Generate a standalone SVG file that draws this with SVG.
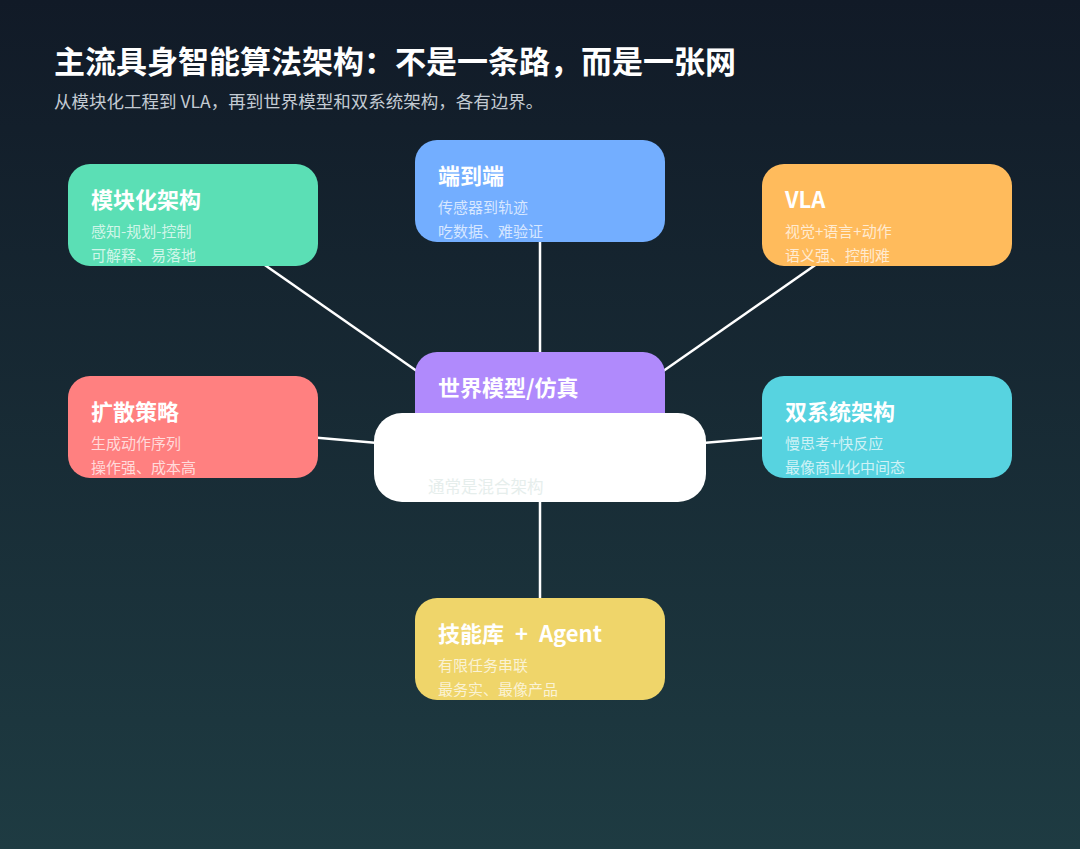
<svg xmlns="http://www.w3.org/2000/svg" width="1080" height="849" viewBox="0 0 1080 849">
<defs>
<linearGradient id="bg" x1="0" y1="0" x2="0" y2="1">
<stop offset="0" stop-color="#111a27"/>
<stop offset="1" stop-color="#1e3b42"/>
</linearGradient>
</defs>
<style>
text{font-family:"Noto Sans CJK SC","Noto Sans",sans-serif}
.title{font-size:31px;font-weight:700;fill:#ffffff}
.sub{font-size:17.5px;fill:#c3cbd3}
.nt{font-size:22px;font-weight:700;fill:#ffffff}
.nd{font-size:15px;fill:#ffffff;fill-opacity:0.72}
.edge{stroke:#ffffff;stroke-width:2.5;fill:none}
</style>
<rect width="1080" height="849" fill="url(#bg)"/>
<text class="title" x="54" y="73">主流具身智能算法架构：不是一条路，而是一张网</text>
<text class="sub" x="54" y="108">从模块化工程到 VLA，再到世界模型和双系统架构，各有边界。</text>
<g id="connectors">
<line class="edge" x1="193" y1="215" x2="540" y2="457"/>
<line class="edge" x1="540" y1="191" x2="540" y2="457"/>
<line class="edge" x1="887" y1="215" x2="540" y2="457"/>
<line class="edge" x1="193" y1="427" x2="540" y2="457"/>
<line class="edge" x1="887" y1="427" x2="540" y2="457"/>
<line class="edge" x1="540" y1="649" x2="540" y2="457"/>
</g>
<g id="node-modular">
<rect x="68" y="164" width="250" height="102" rx="22" fill="#5bdfb5"/>
<text class="nt" x="91" y="208">模块化架构</text>
<text class="nd" x="91" y="237">感知-规划-控制</text>
<text class="nd" x="91" y="261">可解释、易落地</text>
</g>
<g id="node-e2e">
<rect x="415" y="140" width="250" height="102" rx="22" fill="#73aeff"/>
<text class="nt" x="438" y="184">端到端</text>
<text class="nd" x="438" y="213">传感器到轨迹</text>
<text class="nd" x="438" y="237">吃数据、难验证</text>
</g>
<g id="node-vla">
<rect x="762" y="164" width="250" height="102" rx="22" fill="#ffbb5c"/>
<text class="nt" x="785" y="208">VLA</text>
<text class="nd" x="785" y="237">视觉+语言+动作</text>
<text class="nd" x="785" y="261">语义强、控制难</text>
</g>
<g id="node-world">
<rect x="415" y="352" width="250" height="102" rx="22" fill="#b08afc"/>
<text class="nt" x="438" y="396">世界模型/仿真</text>
</g>
<g id="node-diffusion">
<rect x="68" y="376" width="250" height="102" rx="22" fill="#ff8080"/>
<text class="nt" x="91" y="420">扩散策略</text>
<text class="nd" x="91" y="449">生成动作序列</text>
<text class="nd" x="91" y="473">操作强、成本高</text>
</g>
<g id="node-dual">
<rect x="762" y="376" width="250" height="102" rx="22" fill="#57d3e0"/>
<text class="nt" x="785" y="420">双系统架构</text>
<text class="nd" x="785" y="449">慢思考+快反应</text>
<text class="nd" x="785" y="473">最像商业化中间态</text>
</g>
<g id="node-skill">
<rect x="415" y="598" width="250" height="102" rx="22" fill="#efd56a"/>
<text class="nt" x="438" y="642" style="word-spacing:6px">技能库 + Agent</text>
<text class="nd" x="438" y="671">有限任务串联</text>
<text class="nd" x="438" y="695">最务实、最像产品</text>
</g>
<g id="node-center">
<rect x="374" y="413" width="332" height="89" rx="28" fill="#ffffff"/>
<text x="428" y="493" style="font-size:16.5px;fill:#e6eeec">通常是混合架构</text>
</g>
</svg>
